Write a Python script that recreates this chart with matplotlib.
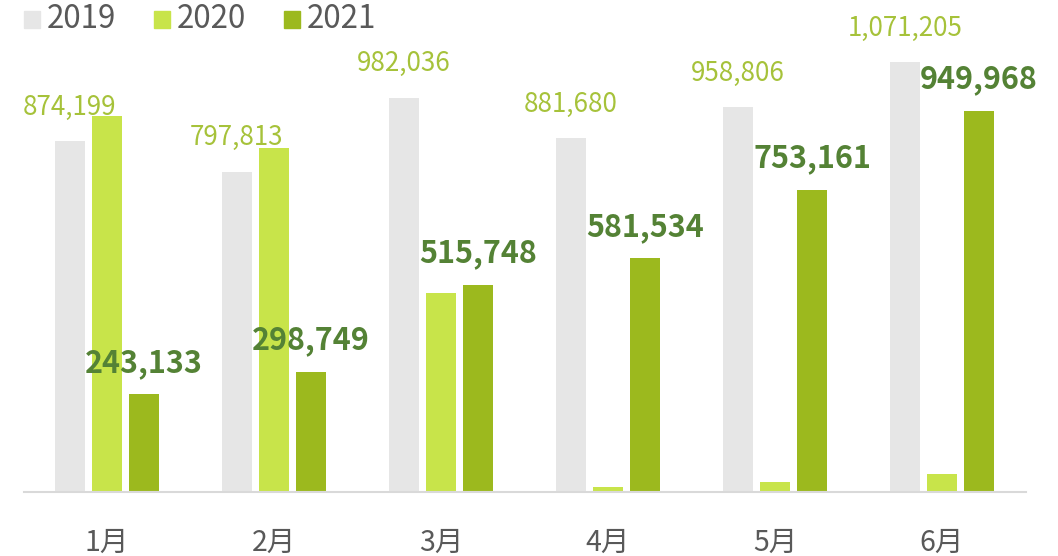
import matplotlib
matplotlib.use("Agg")
import matplotlib.pyplot as plt
import numpy as np
from matplotlib.patches import Rectangle

plt.rcParams['font.family'] = ['Noto Sans CJK JP', 'DejaVu Sans']

months = ['1月', '2月', '3月', '4月', '5月', '6月']
series_names = ['2019', '2020', '2021']
v2019 = [874199, 797813, 982036, 881680, 958806, 1071205]
v2020 = [936900, 857800, 495300, 11000, 24500, 43700]
v2021 = [243133, 298749, 515748, 581534, 753161, 949968]

c2019 = '#e6e6e6'
c2020 = '#c8e44a'
c2021 = '#9cb91e'
lab2019 = '#a6c23a'
lab2021 = '#548235'
textgray = '#595959'

fig = plt.figure(figsize=(10.58, 5.56), dpi=100)
W, H = 1058, 556
left, right = 23.5, 1025.5
base = 491.5
top = base - 1.2e6 / 2495
ax = fig.add_axes([left / W, 1 - base / H, (right - left) / W, (base - top) / H])

x = np.arange(len(months))
off = 0.222
bw = 0.178
ax.bar(x - off, v2019, bw, color=c2019)
ax.bar(x, v2020, bw, color=c2020)
ax.bar(x + off, v2021, bw, color=c2021)

ax.set_xlim(-0.5, 5.5)
ax.set_ylim(0, 1.2e6)
for s in ['top', 'right', 'left']:
    ax.spines[s].set_visible(False)
ax.spines['bottom'].set_color('#d9d9d9')
ax.spines['bottom'].set_linewidth(1.5)
ax.set_yticks([])
ax.set_xticks(x)
ax.set_xticklabels(months, fontsize=20.5, color=textgray)
ax.tick_params(axis='x', length=0, pad=26)

for i, v in enumerate(v2019):
    ax.annotate(f'{v:,}', (x[i] - off, v), xytext=(0, 24.5), textcoords='offset points',
                ha='center', va='center', fontsize=18.7, color=lab2019)
for i, v in enumerate(v2021):
    ax.annotate(f'{v:,}', (x[i] + off, v), xytext=(0, 22.5), textcoords='offset points',
                ha='center', va='center', fontsize=22, color=lab2021, fontweight='bold')

# legend
for k, (name, c) in enumerate(zip(series_names, (c2019, c2020, c2021))):
    x0 = 24 + 130 * k
    fig.patches.append(Rectangle((x0 / W, 1 - 27.5 / H), 16 / W, 16 / H,
                                 transform=fig.transFigure, color=c, figure=fig))
    fig.text((x0 + 23) / W, 1 - 19 / H, name, fontsize=22.5, color=textgray,
             ha='left', va='center')

fig.savefig('out.png', dpi=100)
